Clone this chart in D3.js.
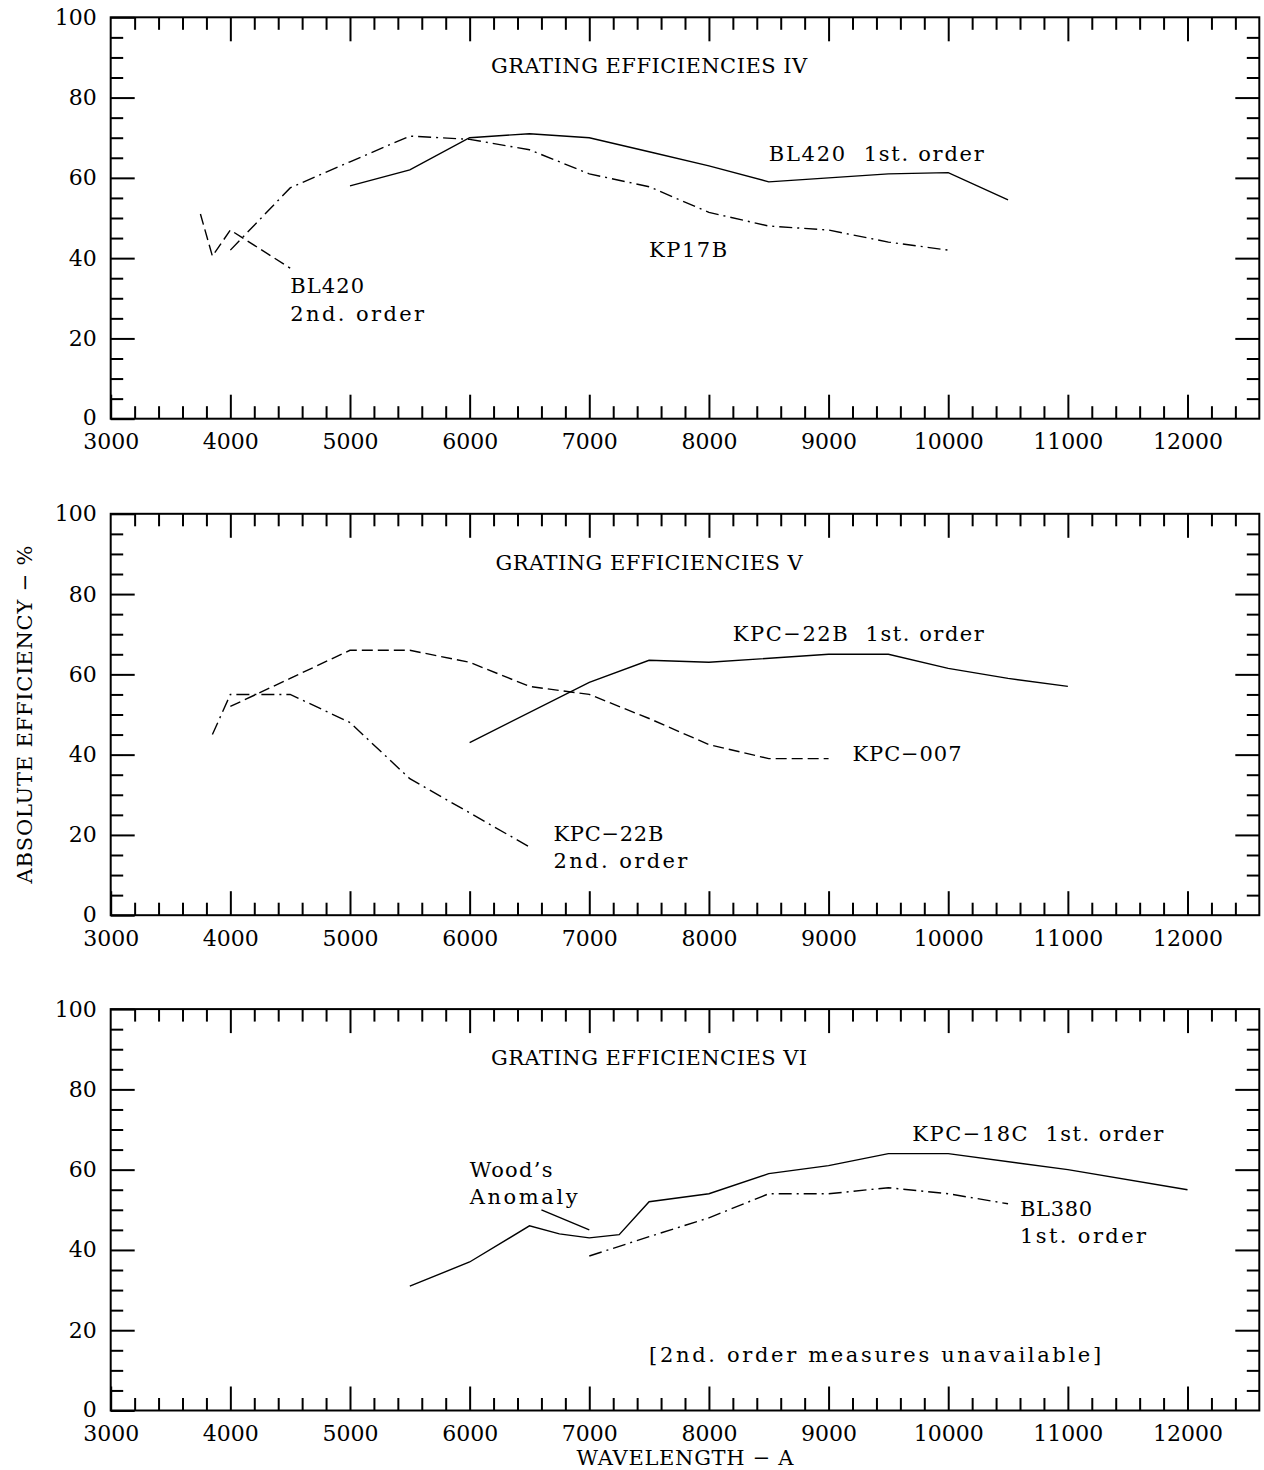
<!DOCTYPE html>
<html>
<head>
<meta charset="utf-8">
<script src="https://cdn.jsdelivr.net/npm/d3@7"></script>
<style>
  html, body { margin: 0; padding: 0; background: #fff; }
  svg { display: block; }
  text { font-family: "DejaVu Serif", "Liberation Serif", serif; fill: #000; }
</style>
</head>
<body>
<script>
// Wavelength axis (Angstrom) and efficiency axis (%)
const wavelengthDomain = [3000, 12600];
const efficiencyDomain = [0, 100];
const wavelengthTicks = [3000, 4000, 5000, 6000, 7000, 8000, 9000, 10000, 11000, 12000];
const efficiencyTicks = [0, 20, 40, 60, 80, 100];

// Panel IV
const bl420First = [[5000,58],[5500,62],[6000,70],[6500,71],[7000,70],[7500,66.5],[8000,63],[8500,59],[9000,60],[9500,61],[10000,61.3],[10500,54.5]];
const kp17b = [[4000,42],[4500,57.5],[5000,64],[5500,70.4],[6000,69.6],[6500,67],[7000,61],[7500,57.8],[8000,51.4],[8500,48],[9000,47],[9500,44],[10000,42]];
const bl420Second = [[3750,51],[3850,40.5],[4000,47],[4500,37.5]];

// Panel V
const kpc22bFirst = [[6000,43],[7000,58],[7500,63.5],[8000,63],[9000,65],[9500,65],[10000,61.5],[10500,59],[11000,57]];
const kpc007 = [[4000,52],[4500,59],[5000,66],[5500,66],[6000,63],[6500,57],[7000,55],[7500,49],[8000,42.5],[8500,39],[9000,39]];
const kpc22bSecond = [[3850,45],[4000,55],[4500,55],[5000,48],[5500,34],[6000,25.5],[6500,17]];

// Panel VI
const kpc18cFirst = [[5500,31],[6000,37],[6500,46],[6750,44],[7000,43],[7250,43.8],[7500,52],[8000,54],[8500,59],[9000,61],[9500,64],[10000,64],[11000,60],[12000,55]];
const bl380First = [[7000,38.5],[7500,43.3],[8000,48],[8500,54],[9000,54],[9500,55.5],[10000,54],[10500,51.5]];
const woodsLeader = [[6600,50],[7000,45]];

const panelTitles = ["GRATING EFFICIENCIES IV", "GRATING EFFICIENCIES V", "GRATING EFFICIENCIES VI"];
const titleWidths = [316, 307, 316];

const styles = {
  solid: null,
  dashed: "11 5",
  dashdot: "13 5 2 5"
};

// annotation text: anchor in data units, rendered width per line in px
const panels = [
  {
    series: [
      { data: bl420First, style: "solid" },
      { data: kp17b, style: "dashdot" },
      { data: bl420Second, style: "dashed" }
    ],
    labels: [
      { x: 8500, y: 64.2, lines: ["BL420  1st. order"], widths: [215] },
      { x: 7500, y: 40.3, lines: ["KP17B"], widths: [78] },
      { x: 4500, y: 31.3, lines: ["BL420", "2nd. order"], widths: [74, 134] }
    ]
  },
  {
    series: [
      { data: kpc22bFirst, style: "solid" },
      { data: kpc007, style: "dashed" },
      { data: kpc22bSecond, style: "dashdot" }
    ],
    labels: [
      { x: 8200, y: 68.3, lines: ["KPC\u221222B  1st. order"], widths: [251] },
      { x: 9200, y: 38.4, lines: ["KPC\u2212007"], widths: [109] },
      { x: 6700, y: 18.5, lines: ["KPC\u221222B", "2nd. order"], widths: [110, 134] }
    ]
  },
  {
    series: [
      { data: kpc18cFirst, style: "solid" },
      { data: bl380First, style: "dashdot" },
      { data: woodsLeader, style: "solid" }
    ],
    labels: [
      { x: 9700, y: 67.1, lines: ["KPC\u221218C  1st. order"], widths: [251] },
      { x: 6000, y: 58.2, lines: ["Wood\u2019s", "Anomaly"], widths: [83, 108] },
      { x: 10600, y: 48.5, lines: ["BL380", "1st. order"], widths: [72, 126] },
      { x: 7500, y: 12.1, lines: ["[2nd. order measures unavailable]"], widths: [452] }
    ]
  }
];

const W = 1264, H = 1470;
const left = 110.7, right = 1259.3;
const panelTops = [17.3, 513.8, 1009.1];
const panelHeight = 401.4;

const svg = d3.select("body").append("svg")
  .attr("width", W).attr("height", H)
  .attr("viewBox", `0 0 ${W} ${H}`);

const x = d3.scaleLinear().domain(wavelengthDomain).range([left, right]);
const minorX = d3.range(3000, 12600, 200).filter(v => v % 1000 !== 0);
const minorY = d3.range(0, 101, 5).filter(v => v % 20 !== 0);

const majorLen = 24, minorLen = 12.5;

panels.forEach((p, i) => {
  const top = panelTops[i], bottom = top + panelHeight;
  const y = d3.scaleLinear().domain(efficiencyDomain).range([bottom, top]);
  const g = svg.append("g");

  // curves
  const line = d3.line().x(d => x(d[0])).y(d => y(d[1]));
  p.series.forEach(s => {
    g.append("path")
      .attr("d", line(s.data))
      .attr("fill", "none")
      .attr("stroke", "#000")
      .attr("stroke-width", 1.4)
      .attr("stroke-dasharray", styles[s.style]);
  });

  // inward ticks on all four sides
  const tickStyle = sel => {
    sel.select(".domain").remove();
    sel.selectAll(".tick line").attr("stroke", "#000").attr("stroke-width", 2);
  };
  const bottomMajor = d3.axisBottom(x).tickValues(wavelengthTicks).tickSize(-majorLen).tickPadding(15).tickFormat(d3.format("d"));
  g.append("g").attr("transform", `translate(0,${bottom})`).call(bottomMajor).call(tickStyle)
    .selectAll("text").attr("font-size", 22).attr("font-family", "DejaVu Serif");
  g.append("g").attr("transform", `translate(0,${bottom})`)
    .call(d3.axisBottom(x).tickValues(minorX).tickSize(-minorLen).tickFormat(""))
    .call(tickStyle);
  g.append("g").attr("transform", `translate(0,${top})`)
    .call(d3.axisTop(x).tickValues(wavelengthTicks.filter(v => v > 3000)).tickSize(-majorLen).tickFormat(""))
    .call(tickStyle);
  g.append("g").attr("transform", `translate(0,${top})`)
    .call(d3.axisTop(x).tickValues(minorX).tickSize(-minorLen).tickFormat(""))
    .call(tickStyle);

  g.append("g").attr("transform", `translate(${left},0)`)
    .call(d3.axisLeft(y).tickValues(efficiencyTicks).tickSize(-majorLen).tickPadding(14))
    .call(tickStyle)
    .selectAll("text").attr("font-size", 22).attr("font-family", "DejaVu Serif")
    .attr("dy", d => d === 0 ? "0.28em" : "0.32em");
  g.append("g").attr("transform", `translate(${left},0)`)
    .call(d3.axisLeft(y).tickValues(minorY).tickSize(-minorLen).tickFormat(""))
    .call(tickStyle);
  g.append("g").attr("transform", `translate(${right},0)`)
    .call(d3.axisRight(y).tickValues(efficiencyTicks.filter(v => v > 0 && v < 100)).tickSize(-majorLen).tickFormat(""))
    .call(tickStyle);
  g.append("g").attr("transform", `translate(${right},0)`)
    .call(d3.axisRight(y).tickValues(minorY).tickSize(-minorLen).tickFormat(""))
    .call(tickStyle);

  // frame
  g.append("rect")
    .attr("x", left).attr("y", top)
    .attr("width", right - left).attr("height", panelHeight)
    .attr("fill", "none").attr("stroke", "#000").attr("stroke-width", 2);

  // title
  g.append("text")
    .attr("x", x(7500)).attr("y", y(86))
    .attr("text-anchor", "middle")
    .attr("font-size", 21)
    .attr("textLength", titleWidths[i])
    .attr("lengthAdjust", "spacing")
    .text(panelTitles[i]);

  // curve annotations
  p.labels.forEach(l => {
    l.lines.forEach((s, k) => {
      g.append("text")
        .attr("x", x(l.x))
        .attr("y", y(l.y) + k * 27.5)
        .attr("font-size", 21)
        .attr("xml:space", "preserve")
        .attr("textLength", l.widths[k])
        .attr("lengthAdjust", "spacing")
        .text(s);
    });
  });
});

// shared axis titles
svg.append("text")
  .attr("transform", `translate(32,${panelTops[1] + panelHeight / 2}) rotate(-90)`)
  .attr("text-anchor", "middle")
  .attr("font-size", 21)
  .attr("textLength", 338)
  .attr("lengthAdjust", "spacing")
  .text("ABSOLUTE EFFICIENCY \u2212 %");

svg.append("text")
  .attr("x", (left + right) / 2)
  .attr("y", 1465)
  .attr("text-anchor", "middle")
  .attr("font-size", 21)
  .attr("textLength", 217)
  .attr("lengthAdjust", "spacing")
  .text("WAVELENGTH \u2212 A");
</script>
</body>
</html>
